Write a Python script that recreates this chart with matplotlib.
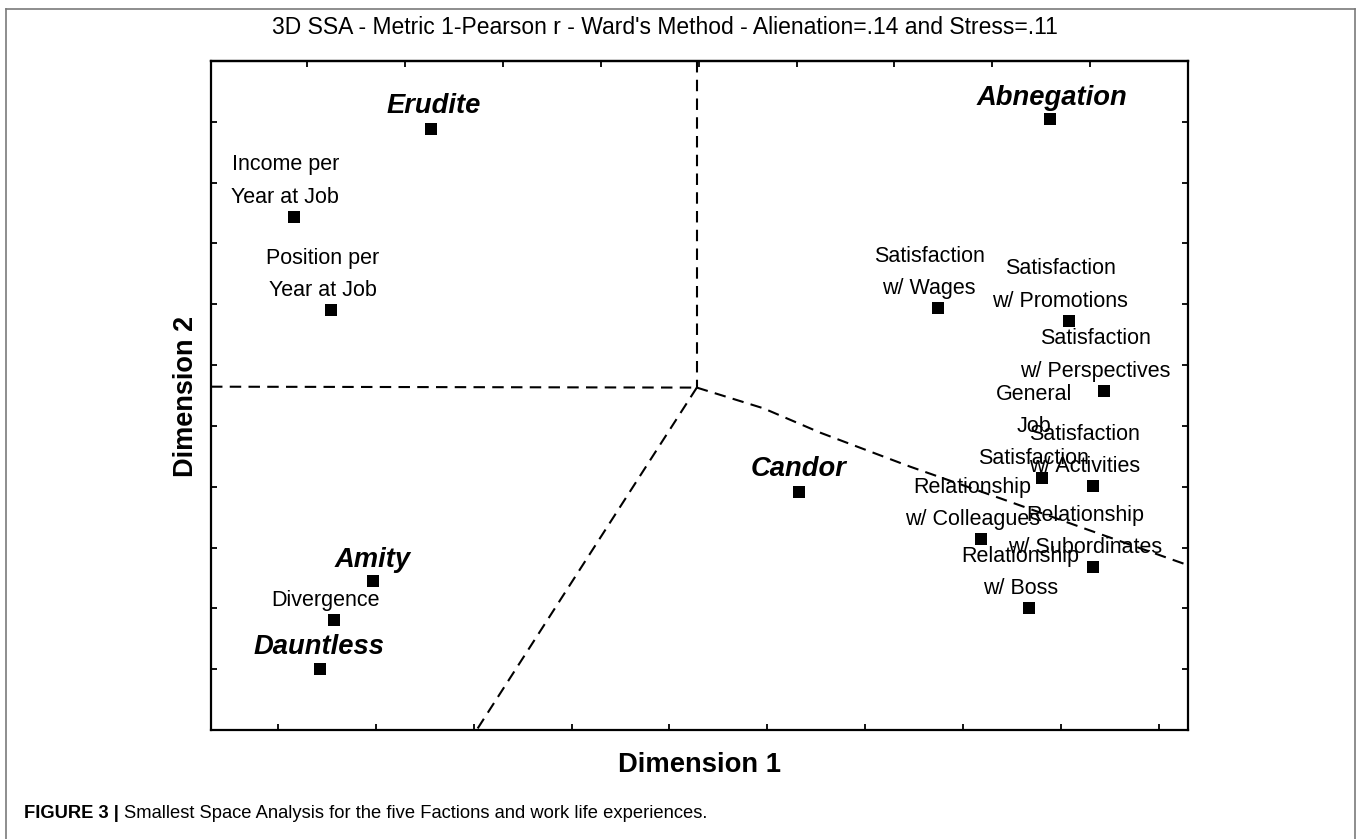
import matplotlib
matplotlib.use("Agg")
import matplotlib.pyplot as plt
from matplotlib import font_manager as fm
from matplotlib.lines import Line2D

plt.rcParams['font.family'] = ['Liberation Sans', 'DejaVu Sans']

# ---------------- data ----------------
title = "3D SSA - Metric 1-Pearson r - Ward's Method - Alienation=.14 and Stress=.11"
xlabel = "Dimension 1"
ylabel = "Dimension 2"
caption_bold = "FIGURE 3 |"
caption_text = "Smallest Space Analysis for the five Factions and work life experiences."

factions = ["Erudite", "Abnegation", "Candor", "Amity", "Dauntless"]
faction_dim1 = [2.56, 8.89, 6.32, 1.97, 1.43]
faction_dim2 = [9.88, 10.05, 3.91, 2.45, 1.00]

items = ["Income per\nYear at Job", "Position per\nYear at Job",
         "Satisfaction\nw/ Wages", "Satisfaction\nw/ Promotions",
         "Satisfaction\nw/ Perspectives", "General\nJob\nSatisfaction",
         "Satisfaction\nw/ Activities", "Relationship\nw/ Colleagues",
         "Relationship\nw/ Subordinates", "Relationship\nw/ Boss",
         "Divergence"]
item_dim1 = [1.16, 1.54, 7.74, 9.08, 9.44, 8.81, 9.33, 8.18, 9.33, 8.67, 1.57]
item_dim2 = [8.44, 6.91, 6.94, 6.73, 5.58, 4.14, 4.01, 3.14, 2.68, 2.00, 1.81]

# region boundaries (dashed partition lines)
border_top_x = [5.28, 5.28]
border_top_y = [11.0, 5.63]
border_left_x = [0.315, 5.28]
border_left_y = [5.645, 5.63]
border_low_x = [5.28, 3.03]
border_low_y = [5.63, 0.0]
border_right_x = [5.28, 5.96, 6.54, 7.46, 8.38, 9.30, 10.30]
border_right_y = [5.63, 5.29, 4.89, 4.33, 3.81, 3.28, 2.71]

bottom_ticks = [1, 2, 3, 4, 5, 6, 7, 8, 9, 10]
top_ticks = [1.3, 2.3, 3.3, 4.3, 5.3, 6.3, 7.3, 8.3, 9.3]
side_ticks = [1, 2, 3, 4, 5, 6, 7, 8, 9, 10]

# label offsets (points) for faction names
faction_offsets = {"Erudite": (2, 11.5), "Abnegation": (1.5, 10),
                   "Candor": (0, 12), "Amity": (0, 10),
                   "Dauntless": (-1, 11)}

# ---------------- figure ----------------
W, H, DPI = 1357, 839, 100
fig = plt.figure(figsize=(W / DPI, H / DPI), dpi=DPI)

# outer frame (gray) of the figure panel
frame_kw = dict(color="#7a7a7a", lw=1.2, transform=fig.transFigure)
x0, x1, y1 = 6.0 / W, 1355 / W, 1 - 8.5 / H
fig.add_artist(Line2D([x0, x0], [0, y1], **frame_kw))
fig.add_artist(Line2D([x1, x1], [0, y1], **frame_kw))
fig.add_artist(Line2D([x0, x1], [y1, y1], **frame_kw))

ax = fig.add_axes([211 / W, 1 - 730 / H, (1188 - 211) / W, (730 - 61) / H])
ax.set_xlim(0.315, 10.30)
ax.set_ylim(0.0, 11.0)
for s in ax.spines.values():
    s.set_linewidth(1.6)
    s.set_color("black")
ax.set_xticks(bottom_ticks)
ax.set_yticks(side_ticks)
ax.tick_params(axis="both", direction="in", length=4.5, width=1.3,
               labelbottom=False, labelleft=False,
               left=True, right=True, bottom=True, top=False)
sec = ax.secondary_xaxis("top")
sec.set_xticks(top_ticks)
sec.tick_params(direction="in", length=4.5, width=1.3, labeltop=False)
sec.spines["top"].set_linewidth(1.6)

dash = dict(color="black", lw=1.5, linestyle=(0, (5.5, 3.5)))
ax.plot(border_top_x, border_top_y, **dash)
ax.plot(border_left_x, border_left_y, **dash)
ax.plot(border_low_x, border_low_y, **dash)
ax.plot(border_right_x, border_right_y, **dash)

ax.plot(faction_dim1, faction_dim2, "s", color="black", ms=8, mew=0, zorder=5)
ax.plot(item_dim1, item_dim2, "s", color="black", ms=8, mew=0, zorder=5)

for name, x, y in zip(factions, faction_dim1, faction_dim2):
    dx, dy = faction_offsets[name]
    ax.annotate(name, (x, y), xytext=(dx, dy), textcoords="offset points",
                ha="center", va="baseline", fontsize=19.7, fontweight="bold",
                fontstyle="italic")

for name, x, y in zip(items, item_dim1, item_dim2):
    ax.annotate(name, (x, y), xytext=(-6, 6.5), textcoords="offset points",
                ha="center", va="bottom", fontsize=15.5, linespacing=1.7)

fig.text(665 / W, 1 - 28 / H, title, ha="center", va="center", fontsize=16.5)
fig.text(699 / W, 1 - 765 / H, xlabel, ha="center", va="center",
         fontsize=19.7, fontweight="bold")
fig.text(186 / W, 1 - 396 / H, ylabel, ha="center", va="center",
         fontsize=19.5, fontweight="bold", rotation=90)

# caption
names = {f.name for f in fm.fontManager.ttflist}
cap_family = "Liberation Sans Narrow" if "Liberation Sans Narrow" in names else "Liberation Sans"
cap_size = 15.5 if cap_family == "Liberation Sans Narrow" else 13.2
t1 = fig.text(24 / W, 1 - 818 / H, caption_bold, ha="left", va="baseline",
              fontsize=cap_size, fontweight="bold", family=cap_family)
fig.canvas.draw()
bb = t1.get_window_extent(renderer=fig.canvas.get_renderer())
fig.text((bb.x1 + 5) / W, 1 - 818 / H, caption_text, ha="left", va="baseline",
         fontsize=cap_size, family=cap_family)

fig.savefig("out.png", dpi=DPI)
